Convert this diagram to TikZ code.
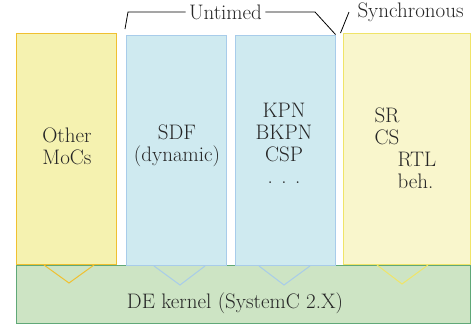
\documentclass[tikz,border=0pt]{standalone}
\definecolor{yelfill}{HTML}{F5F2B0}
\definecolor{yeldraw}{HTML}{F0C030}
\definecolor{synfill}{HTML}{F9F6CC}
\definecolor{syndraw}{HTML}{F0E468}
\definecolor{cyanfill}{HTML}{CFEAF0}
\definecolor{cyandraw}{HTML}{A8CCEA}
\definecolor{defill}{HTML}{CDE4C4}
\definecolor{dedraw}{HTML}{60A878}
\begin{document}
\begin{tikzpicture}[x=1pt,y=-1pt,line width=1pt,font=\fontsize{21}{22}\selectfont,
  moc/.style={draw,minimum width=100pt,minimum height=231pt,inner sep=0pt},
  txt/.style={align=center,inner sep=0pt,text=black!85}]
\useasboundingbox (0,0) rectangle (474,325);
\node[moc,fill=defill,draw=dedraw,minimum width=454pt,minimum height=58pt] (de) at (243,294){};
\node[moc,fill=yelfill,draw=yeldraw] (other) at (66,149){};
\node[moc,fill=cyanfill,draw=cyandraw,minimum height=230pt] (sdf) at (176,150){};
\node[moc,fill=cyanfill,draw=cyandraw,minimum height=230pt] (kpn) at (285,150){};
\node[moc,fill=synfill,draw=syndraw,minimum width=127pt] (sync) at (406.5,149){};
% labels
\node[txt] (lo) at (67,146){Other\\MoCs};
\node[txt] (ls) at (177,146){SDF\\(dynamic)};
\node[txt] (lk) at (284,143){KPN\\BKPN\\CSP\\. . .};
\node[txt,anchor=west] (lsr) at (374,115){SR};
\node[txt,anchor=west] (lcs) at (374,137){CS};
\node[txt,anchor=west] (lrtl) at (397,159){RTL};
\node[txt,anchor=west] (lbeh) at (397,181){beh.};
\node[txt] (lde) at (235,303){DE kernel (SystemC 2.X)};
% triangles
\draw[yeldraw] (44,265) -- (69,283) -- (94,265);
\draw[cyandraw] (154,266) -- (180,285) -- (205,266);
\draw[cyandraw] (259,266) -- (284,285) -- (310,266);
\draw[syndraw] (377,265) -- (402,284) -- (428,265);
% brackets
\node[txt] (untimed) at (225.5,12){Untimed};
\node[txt,anchor=west] (synchronous) at (357,12){Synchronous};
\draw[line width=0.8pt] (125,29) -- (128,12) -- ([xshift=-3pt]untimed.west |- 0,12);
\draw[line width=0.8pt] ([xshift=3pt]untimed.east |- 0,12) -- (315,12) -- (kpn.north east);
\draw[line width=0.8pt] (sync.north west) ++(-2,0) -- (349,12);
\end{tikzpicture}
\end{document}
